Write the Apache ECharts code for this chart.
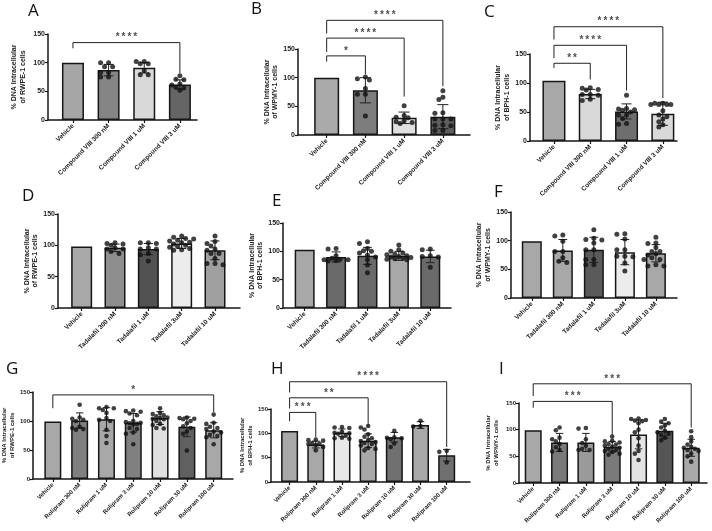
<!DOCTYPE html>
<html>
<head>
<meta charset="utf-8">
<script src="https://cdn.jsdelivr.net/npm/echarts@6/dist/echarts.min.js"></script>
<style>
  html, body { margin: 0; padding: 0; background: #fff; }
  #chart { width: 712px; height: 531px; }
</style>
</head>
<body>
<div id="chart"></div>
<script>
// ---- categories ----
const compoundCats = ['Vehicle', 'Compound VIII 300 nM', 'Compound VIII 1 uM', 'Compound VIII 3 uM'];
const tadalafilCats = ['Vehicle', 'Tadalafil 300 nM', 'Tadalafil 1 uM', 'Tadalafil 3uM', 'Tadalafil 10 uM'];
const rolipramCats = ['Vehicle', 'Rolipram 300 nM', 'Rolipram 1 uM', 'Rolipram 3 uM', 'Rolipram 10 uM', 'Rolipram 30 uM', 'Rolipram 100 uM'];
const yTicks = [0, 50, 100, 150];

// ---- values (bar = mean, sd = error bar, dots = replicates) ----
// sig rows: [target group, bracket level, left leg end, right leg end, stars]
const meanA = [100, 87, 91, 62];
const sdA = [0, 10, 9, 8];
const dotsA = [[], [100, 100, 93, 93, 83, 83, 75, 75], [102, 102, 98, 98, 86, 79, 79], [77, 71, 70, 63, 61, 57, 56, 52]];
const sigA = [[3, 135, 125, 82, '****']];

const meanB = [100, 78, 30, 32];
const sdB = [0, 22, 10, 21];
const dotsB = [[], [101, 98, 96, 81, 71, 71, 33], [51, 34, 31, 30, 25, 23, 22, 20], [77, 66, 62, 39, 38, 28, 28, 28, 18, 17, 16, 8, 8]];
const sigB = [[1, 138, 128, 106, '*'], [2, 169, 145, 67, '****'], [3, 200, 177, 85, '****']];

const meanC = [104, 81, 51, 47];
const sdC = [0, 8, 13, 20];
const dotsC = [[], [92, 91, 89, 88, 80, 80, 79, 72, 70], [79, 56, 55, 54, 53, 50, 45, 45, 39, 30, 29], [65, 65, 63, 63, 63, 63, 52, 45, 42, 38, 33, 28, 24]];
const sigC = [[1, 134, 126, 106, '**'], [2, 165, 143, 87, '****'], [3, 197, 175, 74, '****']];

const meanD = [98, 96, 94, 103, 92];
const sdD = [0, 6, 9, 8, 15];
const dotsD = [[], [104, 103, 102, 100, 96, 94, 94, 90, 87], [104, 104, 103, 96, 94, 94, 87, 85, 75],
  [115, 113, 111, 110, 108, 107, 105, 104, 102, 100, 98, 97, 95, 93, 92], [115, 106, 103, 99, 94, 92, 87, 87, 79, 71, 71, 69]];
const sigD = [];

const meanE = [103, 90, 92, 92, 91];
const sdE = [0, 9, 15, 8, 11];
const dotsE = [[], [105, 104, 92, 88, 86, 85, 85, 84, 83], [117, 114, 105, 101, 100, 97, 93, 90, 85, 76, 62],
  [111, 103, 100, 97, 95, 94, 92, 91, 90, 89, 88, 87, 86, 85], [104, 103, 92, 91, 90, 72]];
const sigE = [];

const meanF = [99, 83, 84, 80, 78];
const sdF = [0, 19, 22, 22, 15];
const dotsF = [[], [110, 108, 99, 81, 81, 70, 64, 62], [119, 104, 102, 101, 96, 84, 84, 67, 67, 58, 58],
  [112, 111, 103, 84, 84, 73, 73, 72, 61, 47], [106, 96, 95, 88, 81, 81, 77, 75, 70, 67, 67, 58, 56, 56]];
const sigF = [];

const meanG = [99, 101, 103, 97, 105, 90, 84];
const sdG = [0, 13, 20, 16, 11, 17, 13];
const dotsG = [[], [128, 106, 104, 102, 100, 90, 88, 86, 85], [124, 122, 122, 119, 114, 105, 102, 100, 85, 74, 62],
  [118, 117, 116, 113, 110, 100, 98, 97, 96, 95, 94, 88, 86, 80, 78, 60],
  [122, 114, 112, 110, 108, 106, 105, 104, 103, 100, 95, 93, 88, 87],
  [106, 105, 104, 103, 100, 96, 91, 88, 82, 78, 49], [111, 97, 95, 90, 88, 86, 82, 80, 76, 74, 72, 60]];
const sigG = [[6, 145, 122, 115, '*']];

const meanH = [105, 77, 101, 85, 92, 117, 55];
const sdH = [0, 7, 8, 14, 10, 7, 12];
const dotsH = [[], [87, 86, 85, 80, 79, 78, 76, 72, 65], [113, 112, 111, 103, 101, 100, 99, 95, 91, 90, 89],
  [115, 112, 108, 98, 93, 90, 86, 84, 82, 80, 78, 75, 70, 68, 65], [105, 92, 91, 90, 88, 79, 72], [126, 115, 114], [64, 62, 40]];
const sigH = [[1, 143, 125, 92, '***'], [3, 173, 151, 114, '**'], [6, 206, 184, 72, '****']];

const meanI = [99, 76, 76, 68, 91, 98, 66];
const sdI = [0, 17, 17, 10, 27, 14, 16];
const dotsI = [[], [104, 99, 85, 82, 78, 73, 67, 62, 59], [103, 102, 82, 75, 70, 64, 62, 62],
  [87, 79, 78, 76, 73, 72, 70, 68, 66, 64, 62, 60, 58, 55, 53],
  [121, 120, 118, 117, 116, 112, 100, 95, 84, 70, 60, 55, 43],
  [120, 115, 112, 108, 104, 98, 95, 92, 90, 85, 80], [97, 86, 78, 72, 68, 66, 64, 62, 60, 55, 50, 40]];
const sigI = [[3, 153, 141, 90, '***'], [6, 186, 163, 104, '***']];

// ---- bar fills (styles) ----
const fillsA = ['#a6a6a6', '#858585', '#d9d9d9', '#656565'];
const fillsB = ['#aaaaaa', '#7d7d7d', '#e0e0e0', '#5e5e5e'];
const fillsC = ['#a8a8a8', '#d9d9d9', '#6e6e6e', '#d9d9d9'];
const fillsD = ['#a8a8a8', '#8e8e8e', '#525252', '#ececec', '#a0a0a0'];
const fillsE = ['#a8a8a8', '#6a6a6a', '#6a6a6a', '#a8a8a8', '#6a6a6a'];
const fillsF = ['#a8a8a8', '#a8a8a8', '#5a5a5a', '#ececec', '#a8a8a8'];
const fillsG = ['#a8a8a8', '#808080', '#a8a8a8', '#808080', '#e0e0e0', '#606060', '#a8a8a8'];
const fillsH = ['#a8a8a8', '#a8a8a8', '#e8e8e8', '#a8a8a8', '#707070', '#a8a8a8', '#707070'];
const fillsI = ['#a8a8a8', '#7a7a7a', '#9a9a9a', '#7a7a7a', '#e4e4e4', '#555555', '#a8a8a8'];

// ---- panel layout ----
const panels = [
  { tag: 'A', cats: compoundCats, mean: meanA, sd: sdA, dots: dotsA, sig: sigA, fills: fillsA, cell: 'RWPE-1',
    left: 48, top: 34, width: 149, height: 86, xMin: -0.70, xMax: 3.48, bar: 22, gap: 21, tx: 28, ty: 3, small: false },
  { tag: 'B', cats: compoundCats, mean: meanB, sd: sdB, dots: dotsB, sig: sigB, fills: fillsB, cell: 'WPMY-1',
    left: 298, top: 49, width: 172, height: 86, xMin: -0.74, xMax: 3.70, bar: 25, gap: 16, tx: 251, ty: 1, small: false },
  { tag: 'C', cats: compoundCats, mean: meanC, sd: sdC, dots: dotsC, sig: sigC, fills: fillsC, cell: 'BPH-1',
    left: 530, top: 54, width: 147, height: 87, xMin: -0.66, xMax: 3.39, bar: 23, gap: 19, tx: 484, ty: 4, small: false },
  { tag: 'D', cats: tadalafilCats, mean: meanD, sd: sdD, dots: dotsD, sig: sigD, fills: fillsD, cell: 'RWPE-1',
    left: 58, top: 214, width: 182, height: 94, xMin: -0.71, xMax: 4.75, bar: 21, gap: 17, tx: 22, ty: 188, small: false },
  { tag: 'E', cats: tadalafilCats, mean: meanE, sd: sdE, dots: dotsE, sig: sigE, fills: fillsE, cell: 'BPH-1',
    left: 283, top: 223, width: 168, height: 85, xMin: -0.69, xMax: 4.66, bar: 20, gap: 16, tx: 272, ty: 193, small: false },
  { tag: 'F', cats: tadalafilCats, mean: meanF, sd: sdF, dots: dotsF, sig: sigF, fills: fillsF, cell: 'WPMY-1',
    left: 511, top: 212, width: 166, height: 86, xMin: -0.67, xMax: 4.68, bar: 20, gap: 19, tx: 494, ty: 184, small: false },
  { tag: 'G', cats: rolipramCats, mean: meanG, sd: sdG, dots: dotsG, sig: sigG, fills: fillsG, cell: 'RWPE-1',
    left: 33, top: 392, width: 200, height: 87, xMin: -0.74, xMax: 6.72, bar: 17, gap: 14, tx: 6, ty: 361, small: true },
  { tag: 'H', cats: rolipramCats, mean: meanH, sd: sdH, dots: dotsH, sig: sigH, fills: fillsH, cell: 'BPH-1',
    left: 271, top: 409, width: 199, height: 73, xMin: -0.71, xMax: 6.89, bar: 17, gap: 17, tx: 271, ty: 361, small: true },
  { tag: 'I', cats: rolipramCats, mean: meanI, sd: sdI, dots: dotsI, sig: sigI, fills: fillsI, cell: 'WPMY-1',
    left: 519, top: 403, width: 188, height: 80, xMin: -0.54, xMax: 6.6, bar: 17, gap: 19, tx: 499, ty: 361, small: true }
];

const INK = '#161616';
const FONT = 'Liberation Sans, Arial, sans-serif';

// simple deterministic swarm: spread replicate dots sideways so they do not pile up
function swarm(vals, pxX, pxY, d, maxOff) {
  const placed = [];
  const step = d * 0.8;
  vals.forEach(v => {
    const y = v * pxY;
    let best = 0, bestDist = -1;
    for (let k = 0; ; k++) {
      const off = (k % 2 ? -1 : 1) * Math.ceil(k / 2) * step;
      if (Math.abs(off) > maxOff) break;
      let minD = Infinity;
      placed.forEach(p => { minD = Math.min(minD, Math.hypot(p[0] - off, p[1] - y)); });
      if (minD >= d * 0.9) { best = off; bestDist = Infinity; break; }
      if (minD > bestDist) { bestDist = minD; best = off; }
    }
    placed.push([best, y]);
  });
  return placed.map((p, i) => [p[0] / pxX, vals[i]]);
}

const grid = [], xAxis = [], yAxis = [], series = [], title = [];

panels.forEach((p, k) => {
  const idx = p.cats.map((c, i) => i);
  const pxX = p.width / (p.xMax - p.xMin);
  const pxY = p.height / 150;
  const dotSize = p.small ? 4.6 : 5;
  const tickFs = p.small ? 6 : 7;
  const catFs = p.small ? 6 : 6.5;
  const nameFs = p.small ? 6 : 7;

  grid.push({ left: p.left, top: p.top, width: p.width, height: p.height });
  title.push({ text: p.tag, left: p.tx, top: p.ty, padding: 0,
    textStyle: { fontSize: 17, fontWeight: 'normal', fontFamily: 'Open Sans, sans-serif', color: '#111' } });

  xAxis.push({
    gridIndex: k, type: 'value', min: p.xMin, max: p.xMax,
    splitLine: { show: false },
    axisLine: { show: true, onZero: false, lineStyle: { color: INK, width: 1.5 } },
    axisTick: { show: true, length: 3, customValues: idx, lineStyle: { color: INK, width: 1.2 } },
    axisLabel: { customValues: idx, rotate: 45, margin: 5, fontSize: catFs, fontWeight: 'bold',
      fontFamily: FONT, color: '#222', formatter: v => p.cats[Math.round(v)] }
  });
  yAxis.push({
    gridIndex: k, type: 'value', min: 0, max: 150, interval: 50,
    splitLine: { show: false },
    axisLine: { show: true, onZero: false, lineStyle: { color: INK, width: 1.5 } },
    axisTick: { show: true, length: 3, lineStyle: { color: INK, width: 1.2 } },
    axisLabel: { fontSize: tickFs, fontWeight: 'bold', fontFamily: FONT, color: '#222', margin: 3,
      customValues: yTicks },
    name: '% DNA Intracellular\nof ' + p.cell + ' cells',
    nameLocation: 'middle', nameGap: p.gap,
    nameTextStyle: { fontSize: nameFs, fontWeight: 'bold', fontFamily: FONT, color: '#222', lineHeight: nameFs + 1.5 }
  });

  // bars
  series.push({
    type: 'bar', xAxisIndex: k, yAxisIndex: k, barWidth: p.bar, z: 2, silent: true,
    data: p.mean.map((m, i) => ({ value: [i, m], itemStyle: { color: p.fills[i] } })),
    itemStyle: { borderColor: INK, borderWidth: 1.5 }
  });

  // error bars (mean ± SD)
  const capHalf = p.bar * 0.22;
  series.push({
    type: 'custom', xAxisIndex: k, yAxisIndex: k, z: 3, silent: true,
    data: p.mean.map((m, i) => [i, m, p.sd[i]]).filter(d => d[2] > 0),
    encode: { x: 0, y: 1 },
    renderItem: (params, api) => {
      const x = api.value(0), m = api.value(1), s = api.value(2);
      const a = api.coord([x, m + s]), b = api.coord([x, m - s]);
      const st = { stroke: '#222', lineWidth: 1 };
      return { type: 'group', children: [
        { type: 'line', shape: { x1: a[0], y1: a[1], x2: b[0], y2: b[1] }, style: st },
        { type: 'line', shape: { x1: a[0] - capHalf, y1: a[1], x2: a[0] + capHalf, y2: a[1] }, style: st },
        { type: 'line', shape: { x1: b[0] - capHalf, y1: b[1], x2: b[0] + capHalf, y2: b[1] }, style: st }
      ] };
    }
  });

  // replicate dots
  const pts = [];
  p.dots.forEach((vals, i) => {
    swarm(vals, pxX, pxY, dotSize, p.bar * 0.62).forEach(q => pts.push([i + q[0], q[1]]));
  });
  series.push({
    type: 'scatter', xAxisIndex: k, yAxisIndex: k, z: 4, silent: true, symbolSize: dotSize,
    itemStyle: { color: '#111' }, data: pts
  });

  // significance brackets
  p.sig.forEach(s => {
    const [to, level, leftEnd, rightEnd, stars] = s;
    series.push({
      type: 'line', xAxisIndex: k, yAxisIndex: k, z: 5, silent: true, clip: false,
      symbol: 'none', lineStyle: { color: '#222', width: 1 },
      data: [[0, leftEnd], [0, level], [to, level], [to, rightEnd]]
    });
    series.push({
      type: 'scatter', xAxisIndex: k, yAxisIndex: k, z: 5, silent: true, clip: false,
      symbolSize: 0,
      data: [{ value: [to / 2, level], name: stars }],
      label: { show: true, position: 'top', distance: 0, fontSize: 10,
        formatter: d => d.name.split('').join('\u2009'),
        fontWeight: 'bold', fontFamily: FONT, color: '#222' }
    });
  });
});

const chart = echarts.init(document.getElementById('chart'), null, { renderer: 'canvas' });
chart.setOption({
  animation: false,
  backgroundColor: '#fff',
  title, grid, xAxis, yAxis, series
});
</script>
</body>
</html>
